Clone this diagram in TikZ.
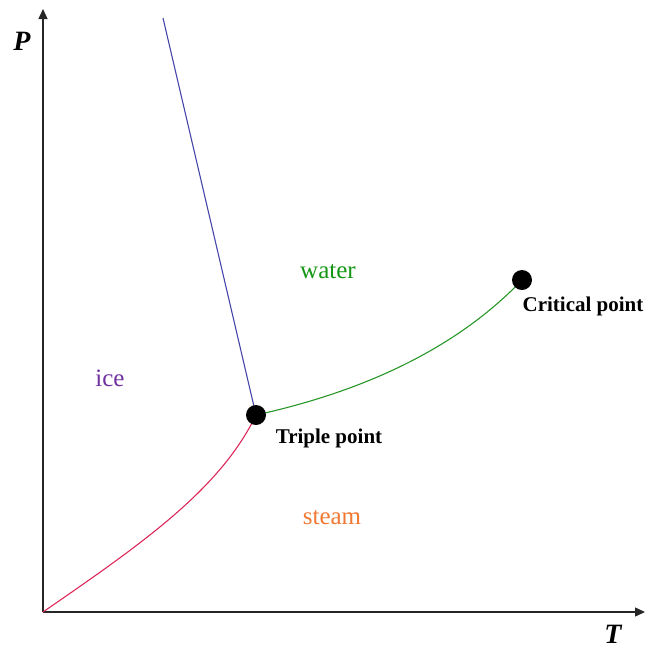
\documentclass[tikz,border=0pt]{standalone}
\usepackage{fontspec}
\setmainfont{Liberation Serif}
\usetikzlibrary{arrows.meta}
\definecolor{icecol}{RGB}{112,48,160}
\definecolor{watercol}{RGB}{20,150,20}
\definecolor{steamcol}{RGB}{240,120,50}
\definecolor{fusecol}{RGB}{70,70,170}
\definecolor{sublcol}{RGB}{220,40,90}
\definecolor{vapcol}{RGB}{40,150,40}
\tikzset{
  axis/.style={draw=black!85, line width=1.4pt, -{Triangle[length=10pt,width=9pt]}},
  dot/.style={circle, fill=black, inner sep=0pt, minimum size=20pt},
  phase/.style={font=\fontsize{25}{27}\selectfont, inner sep=0pt},
  ptlabel/.style={font=\fontsize{21}{23}\selectfont\bfseries, inner sep=0pt},
  axlabel/.style={font=\fontsize{28}{30}\selectfont\bfseries\itshape, inner sep=0pt},
  curve/.style={line width=1.1pt}
}
\begin{document}
\begin{tikzpicture}[x=1pt,y=-1pt]
\useasboundingbox (0,0) rectangle (647,649);
\coordinate (O) at (43,612);
\coordinate (ytip) at (43,9);
\coordinate (xtip) at (645,612);
\coordinate (ftop) at (163,18);
\coordinate (tpc) at (256,415);
\coordinate (cpc) at (522,280);
\draw[axis] (O) -- (ytip);
\draw[axis] (O) -- (xtip);
\draw[curve, fusecol] (ftop) -- (tpc);
\draw[curve, sublcol] (O) .. controls (140,545) and (220,490) .. (tpc);
\draw[curve, vapcol] (tpc) .. controls (370,390) and (460,345) .. (cpc);
\node[dot] (tp) at (tpc) {};
\node[dot] (cp) at (cpc) {};
\node[axlabel] (P) at (22,41) {P};
\node[axlabel] (T) at (613,634) {T};
\node[phase, text=watercol] (water) at (328,272) {water};
\node[phase, text=icecol] (ice) at (110,378) {ice};
\node[phase, text=steamcol] (steam) at (332,518) {steam};
\node[ptlabel] (tpl) at (329,438) {Triple point};
\node[ptlabel] (cpl) at (583,306) {Critical point};
\end{tikzpicture}
\end{document}
